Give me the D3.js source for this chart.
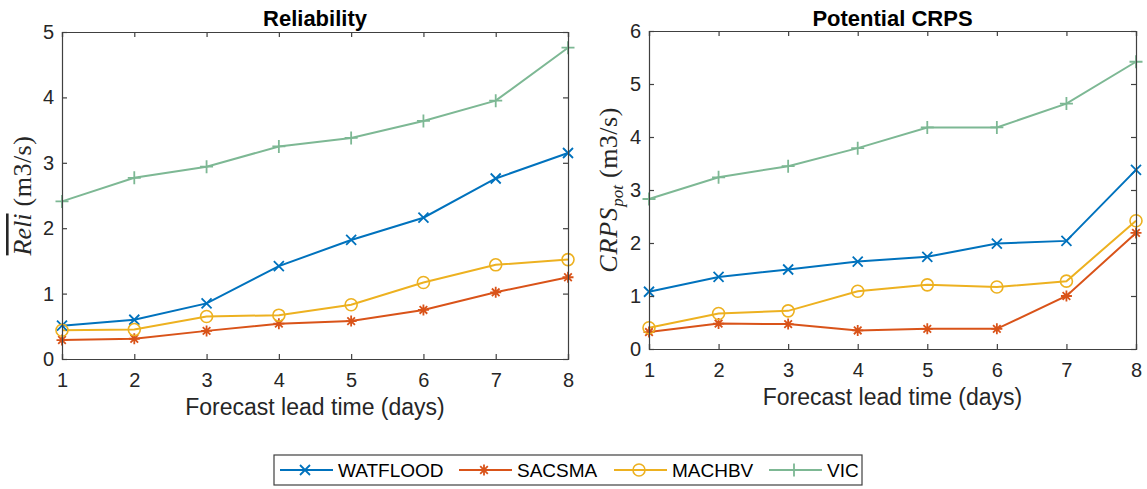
<!DOCTYPE html>
<html>
<head>
<meta charset="utf-8">
<script src="https://cdn.jsdelivr.net/npm/d3@7"></script>
<style>
  body { margin: 0; background: #fff; }
  svg { display: block; }
</style>
</head>
<body>
<svg id="chart" width="1147" height="489"></svg>
<script>
// data
const leadDays = [1, 2, 3, 4, 5, 6, 7, 8];
const models = ["WATFLOOD", "SACSMA", "MACHBV", "VIC"];

const reliWatflood = [0.51, 0.60, 0.85, 1.42, 1.82, 2.16, 2.76, 3.15];
const reliSacsma   = [0.29, 0.31, 0.43, 0.54, 0.58, 0.75, 1.02, 1.25];
const reliMachbv   = [0.44, 0.45, 0.65, 0.67, 0.83, 1.17, 1.44, 1.52];
const reliVic      = [2.41, 2.77, 2.94, 3.25, 3.38, 3.64, 3.95, 4.76];

const crpsWatflood = [1.08, 1.36, 1.50, 1.65, 1.74, 1.99, 2.04, 3.38];
const crpsSacsma   = [0.32, 0.48, 0.47, 0.35, 0.38, 0.38, 1.00, 2.19];
const crpsMachbv   = [0.40, 0.67, 0.72, 1.09, 1.21, 1.17, 1.28, 2.42];
const crpsVic      = [2.83, 3.24, 3.45, 3.79, 4.18, 4.18, 4.63, 5.42];

const reliTicks = [0, 1, 2, 3, 4, 5];
const crpsTicks = [0, 1, 2, 3, 4, 5, 6];

const colors = {WATFLOOD: "#0072BD", SACSMA: "#D95319", MACHBV: "#EDB120", VIC: "#7db894"};
const markers = {WATFLOOD: "x", SACSMA: "star", MACHBV: "circle", VIC: "plus"};

const svg = d3.select("#chart");
const axisColor = "#404040";
const sans = "'Liberation Sans', Arial, sans-serif";
const serif = "'Liberation Serif', 'DejaVu Serif', serif";

function drawMarker(g, type, x, y, color) {
  if (type == "circle") {
    g.append("circle").attr("cx", x).attr("cy", y).attr("r", 6)
      .attr("fill", "none").attr("stroke", color).attr("stroke-width", 1.6);
  } else {
    let s = 5, path = "";
    if (type == "x") {
      path = `M${x-s},${y-s}L${x+s},${y+s}M${x-s},${y+s}L${x+s},${y-s}`;
    } else if (type == "plus") {
      s = 6.5;
      path = `M${x-s},${y}L${x+s},${y}M${x},${y-s}L${x},${y+s}`;
    } else {
      const d = 3.8;
      s = 5.5;
      path = `M${x-s},${y}L${x+s},${y}M${x},${y-s}L${x},${y+s}M${x-d},${y-d}L${x+d},${y+d}M${x-d},${y+d}L${x+d},${y-d}`;
    }
    g.append("path").attr("d", path).attr("stroke", color)
      .attr("stroke-width", 1.8).attr("fill", "none");
  }
}

function panel(box, title, yMax, yTicks, seriesList, ylabel) {
  const x = d3.scaleLinear().domain([1, 8]).range([box.x0, box.x1]);
  const y = d3.scaleLinear().domain([0, yMax]).range([box.y1, box.y0]);
  const g = svg.append("g");

  // lines and markers
  seriesList.forEach((vals, i) => {
    const m = models[i];
    const line = d3.line().x((d, j) => x(leadDays[j])).y(d => y(d));
    g.append("path").datum(vals).attr("d", line)
      .attr("fill", "none").attr("stroke", colors[m]).attr("stroke-width", 2);
  });
  seriesList.forEach((vals, i) => {
    const m = models[i];
    vals.forEach((v, j) => drawMarker(g, markers[m], x(leadDays[j]), y(v), colors[m]));
  });

  // axes, MATLAB style: ticks inside, box on
  const bottom = d3.axisBottom(x).tickValues(leadDays).tickSize(-5).tickPadding(14).tickFormat(d3.format("d"));
  const top = d3.axisTop(x).tickValues(leadDays).tickSize(-5).tickFormat("");
  const left = d3.axisLeft(y).tickValues(yTicks).tickSize(-5).tickPadding(8).tickFormat(d3.format("d"));
  const right = d3.axisRight(y).tickValues(yTicks).tickSize(-5).tickFormat("");

  const axes = [
    g.append("g").attr("transform", `translate(0,${box.y1})`).call(bottom),
    g.append("g").attr("transform", `translate(0,${box.y0})`).call(top),
    g.append("g").attr("transform", `translate(${box.x0},0)`).call(left),
    g.append("g").attr("transform", `translate(${box.x1},0)`).call(right)
  ];
  axes.forEach(a => {
    a.selectAll("path").attr("stroke", axisColor).attr("stroke-width", 1.2);
    a.selectAll("line").attr("stroke", axisColor).attr("stroke-width", 1.2);
    a.selectAll("text").attr("fill", "#262626").style("font-family", sans).style("font-size", "20px");
  });

  g.append("text").attr("x", (box.x0 + box.x1) / 2).attr("y", 26)
    .attr("text-anchor", "middle").style("font-family", sans).style("font-size", "22px")
    .style("font-weight", "bold").text(title);

  g.append("text").attr("x", (box.x0 + box.x1) / 2).attr("y", box.y1 + 56)
    .attr("text-anchor", "middle").style("font-family", sans).style("font-size", "23px")
    .attr("fill", "#262626").text("Forecast lead time (days)");

  const yl = g.append("text")
    .attr("transform", `translate(${box.x0 - box.labelGap},${(box.y0 + box.y1) / 2}) rotate(-90)`)
    .attr("text-anchor", "middle").style("font-family", serif).style("font-size", "26px")
    .attr("fill", "#262626");
  ylabel(yl);
}

const leftBox = {x0: 62, x1: 568, y0: 32, y1: 359, labelGap: 31};
const rightBox = {x0: 649, x1: 1136, y0: 31, y1: 349, labelGap: 32};

panel(leftBox, "Reliability", 5, reliTicks,
  [reliWatflood, reliSacsma, reliMachbv, reliVic],
  t => {
    t.append("tspan").style("font-style", "italic")
      .style("text-decoration", "overline").text("Reli");
    t.append("tspan").style("letter-spacing", "0.5px").text(" (m3/s)");
  });

panel(rightBox, "Potential CRPS", 6, crpsTicks,
  [crpsWatflood, crpsSacsma, crpsMachbv, crpsVic],
  t => {
    t.append("tspan").style("font-style", "italic").style("letter-spacing", "1px").text("CRPS");
    t.append("tspan").style("font-style", "italic").style("font-size", "17px")
      .attr("dy", 6).text("pot");
    t.append("tspan").attr("dy", -6).style("letter-spacing", "0.5px").text("  (m3/s)");
  });

// legend
const legend = svg.append("g");
legend.append("rect").attr("x", 274).attr("y", 455).attr("width", 588).attr("height", 30)
  .attr("fill", "#fff").attr("stroke", axisColor).attr("stroke-width", 1.2);
const legendX = [280, 459, 614, 769];
models.forEach((m, i) => {
  const lx = legendX[i], ly = 470;
  legend.append("line").attr("x1", lx).attr("x2", lx + 53).attr("y1", ly).attr("y2", ly)
    .attr("stroke", colors[m]).attr("stroke-width", 2);
  drawMarker(legend, markers[m], lx + 25, ly, colors[m]);
  legend.append("text").attr("x", lx + 58).attr("y", ly + 7)
    .style("font-family", sans).style("font-size", "19px").attr("fill", "#000").text(m);
});
</script>
</body>
</html>
